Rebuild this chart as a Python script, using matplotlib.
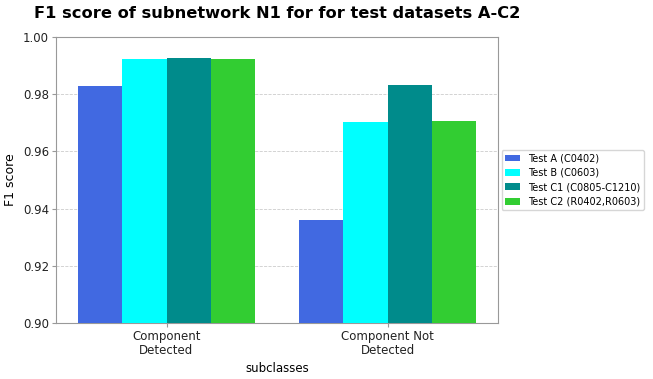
import numpy as np
import matplotlib.pyplot as plt

subclasses = ["Component\nDetected", "Component Not\nDetected"]
series = ["Test A (C0402)", "Test B (C0603)", "Test C1 (C0805-C1210)", "Test C2 (R0402,R0603)"]
test_a = [0.983, 0.936]
test_b = [0.9923, 0.9703]
test_c1 = [0.9927, 0.9832]
test_c2 = [0.9923, 0.9706]
colors = ["royalblue", "cyan", "darkcyan", "limegreen"]

fig = plt.figure(figsize=(6.53, 3.79), dpi=100)
ax = fig.add_axes([56 / 653, 1 - 323 / 379, 442 / 653, 286 / 379])

x = np.arange(len(subclasses))
width = 0.2
for i, (vals, name, c) in enumerate(zip([test_a, test_b, test_c1, test_c2], series, colors)):
    ax.bar(x + (i - 1.5) * width, vals, width, color=c, label=name, zorder=3)

ax.set_ylim(0.90, 1.00)
ax.set_xlim(-0.5, 1.5)
ax.set_xticks(x)
ax.set_xticklabels(subclasses, fontsize=8.5, linespacing=1.1)
ax.set_yticks([0.90, 0.92, 0.94, 0.96, 0.98, 1.00])
ax.set_yticklabels([f"{v:.2f}" for v in [0.90, 0.92, 0.94, 0.96, 0.98, 1.00]], fontsize=8.5)
ax.yaxis.grid(True, linestyle="--", color="#cccccc", linewidth=0.6, zorder=0)
for s in ax.spines.values():
    s.set_color("#999999")
ax.tick_params(colors="#999999", labelcolor="#222222", length=3, pad=2)

ax.set_ylabel("F1 score", fontsize=9)
ax.yaxis.set_label_coords(-0.088, 0.5)
ax.set_xlabel("subclasses", fontsize=8.5)
ax.xaxis.set_label_coords(0.5, -0.135)
fig.text(277 / 653, 1 - 14 / 379, "F1 score of subnetwork N1 for for test datasets A-C2",
         ha="center", va="center", fontsize=11.7, fontweight="bold")

ax.legend(loc="center left", bbox_to_anchor=(1.008, 0.5), fontsize=7,
          handlelength=1.6, handletextpad=0.8, borderpad=0.35, labelspacing=0.45,
          borderaxespad=0.0)

fig.savefig("out.png", dpi=100)
